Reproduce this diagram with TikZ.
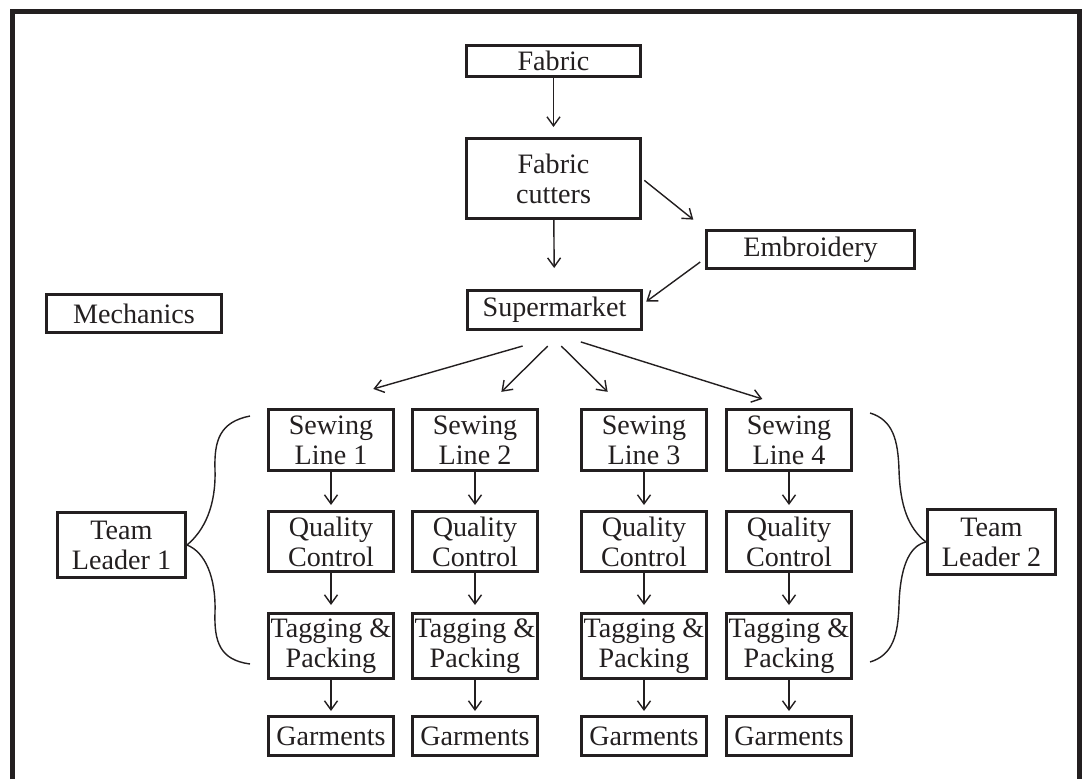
\documentclass[tikz,border=0pt]{standalone}
\usepackage{fontspec}
\setmainfont{Liberation Serif}
\usepackage{xcolor}
\usepackage{tikz}
\usetikzlibrary{positioning,calc,arrows.meta}
\definecolor{inkgray}{RGB}{35,31,32}
\tikzset{
    box/.style={draw=inkgray, line width=1.7pt, inner sep=0pt, align=center, text=inkgray, font=\fontsize{16}{17}\selectfont},
    colbox/.style={box, minimum width=2.5cm},
    arr/.style={draw=inkgray, line width=0.8pt, -{Straight Barb[length=0.18cm,width=0.26cm]}},
    bracket/.style={draw=inkgray, line width=0.8pt}
}

\begin{document}
\begin{tikzpicture}
    \useasboundingbox (0,0) rectangle (21.68,15.58);
    % Frame, open at the bottom
    \draw[inkgray, line width=0.1cm] (0.25,0) -- (0.25,15.35) -- (21.59,15.35) -- (21.59,0);

    % Cutting and preparation
    \node[box, minimum width=3.48cm, minimum height=0.62cm] (fabric) at (11.07,14.36) {Fabric};
    \node[box, minimum width=3.48cm, minimum height=1.6cm] (cutters) at (11.07,12.01) {Fabric\\cutters};
    \node[box, minimum width=4.16cm, minimum height=0.76cm] (embroid) at (16.21,10.59) {Embroidery};
    \node[box, minimum width=3.48cm, minimum height=0.78cm] (super) at (11.09,9.38) {Supermarket};
    \node[box, minimum width=3.5cm, minimum height=0.76cm] (mech) at (2.68,9.31) {Mechanics};

    \draw[arr, shorten >=0.2cm] (fabric) -- (cutters);
    \draw[arr, shorten >=0.42cm] (cutters) -- (super);
    \draw[arr, shorten <=0.06cm, shorten >=0.3cm] (cutters.east) -- (embroid.north west);
    \draw[arr, shorten <=0.12cm, shorten >=0.08cm] ([yshift=-0.18cm]embroid.west) -- ([yshift=0.12cm]super.east);

    % Sewing lines
    \foreach \i/\x in {1/6.62, 2/9.50, 3/12.88, 4/15.78} {
        \node[colbox, minimum height=1.22cm] (sl\i) at (\x,6.78) {Sewing\\Line \i};
        \node[colbox, minimum height=1.2cm] (qc\i) at (\x,4.75) {Quality\\Control};
        \node[colbox, minimum height=1.3cm] (tp\i) at (\x,2.66) {Tagging \&\\Packing};
        \node[colbox, minimum height=0.78cm] (gm\i) at (\x,0.86) {Garments};
        \draw[arr, shorten >=0.1cm] (sl\i) -- (qc\i);
        \draw[arr, shorten >=0.14cm] (qc\i) -- (tp\i);
        \draw[arr, shorten >=0.08cm] (tp\i) -- (gm\i);
    }

    % Supermarket feeds the lines
    \draw[arr, shorten <=1.09cm, shorten >=1.38cm] ([xshift=0.41cm]super.south) -- ([xshift=-0.48cm]sl1.north);
    \draw[arr, shorten <=0.43cm, shorten >=0.46cm] ([xshift=0.17cm]super.south) -- ([xshift=0.2cm]sl2.north);
    \draw[arr, shorten <=0.43cm, shorten >=0.46cm] ([xshift=-0.17cm]super.south) -- ([xshift=-0.4cm]sl3.north);
    \draw[arr, shorten <=0.73cm, shorten >=0.6cm] ([xshift=-0.17cm]super.south) -- ([xshift=0.04cm]sl4.north);

    % Team leaders
    \node[box, minimum width=2.56cm, minimum height=1.3cm] (tl1) at (2.43,4.68) {Team\\Leader 1};
    \node[box, minimum width=2.56cm, minimum height=1.3cm] (tl2) at (19.83,4.74) {Team\\Leader 2};

    \draw[bracket] (5.00,7.26) .. controls (4.40,7.14) and (4.28,6.78) .. (4.30,6.18)
        .. controls (4.32,5.48) and (4.10,4.98) .. (tl1.east)
        .. controls (4.10,4.54) and (4.32,4.04) .. (4.30,3.34)
        .. controls (4.28,2.74) and (4.40,2.38) .. (5.00,2.30);
    \draw[bracket] (17.40,7.32) .. controls (17.86,7.18) and (17.96,6.78) .. (17.98,6.18)
        .. controls (18.00,5.48) and (18.16,5.02) .. (tl2.west)
        .. controls (18.16,4.66) and (18.00,4.18) .. (17.98,3.48)
        .. controls (17.96,2.88) and (17.86,2.48) .. (17.40,2.34);
\end{tikzpicture}
\end{document}
